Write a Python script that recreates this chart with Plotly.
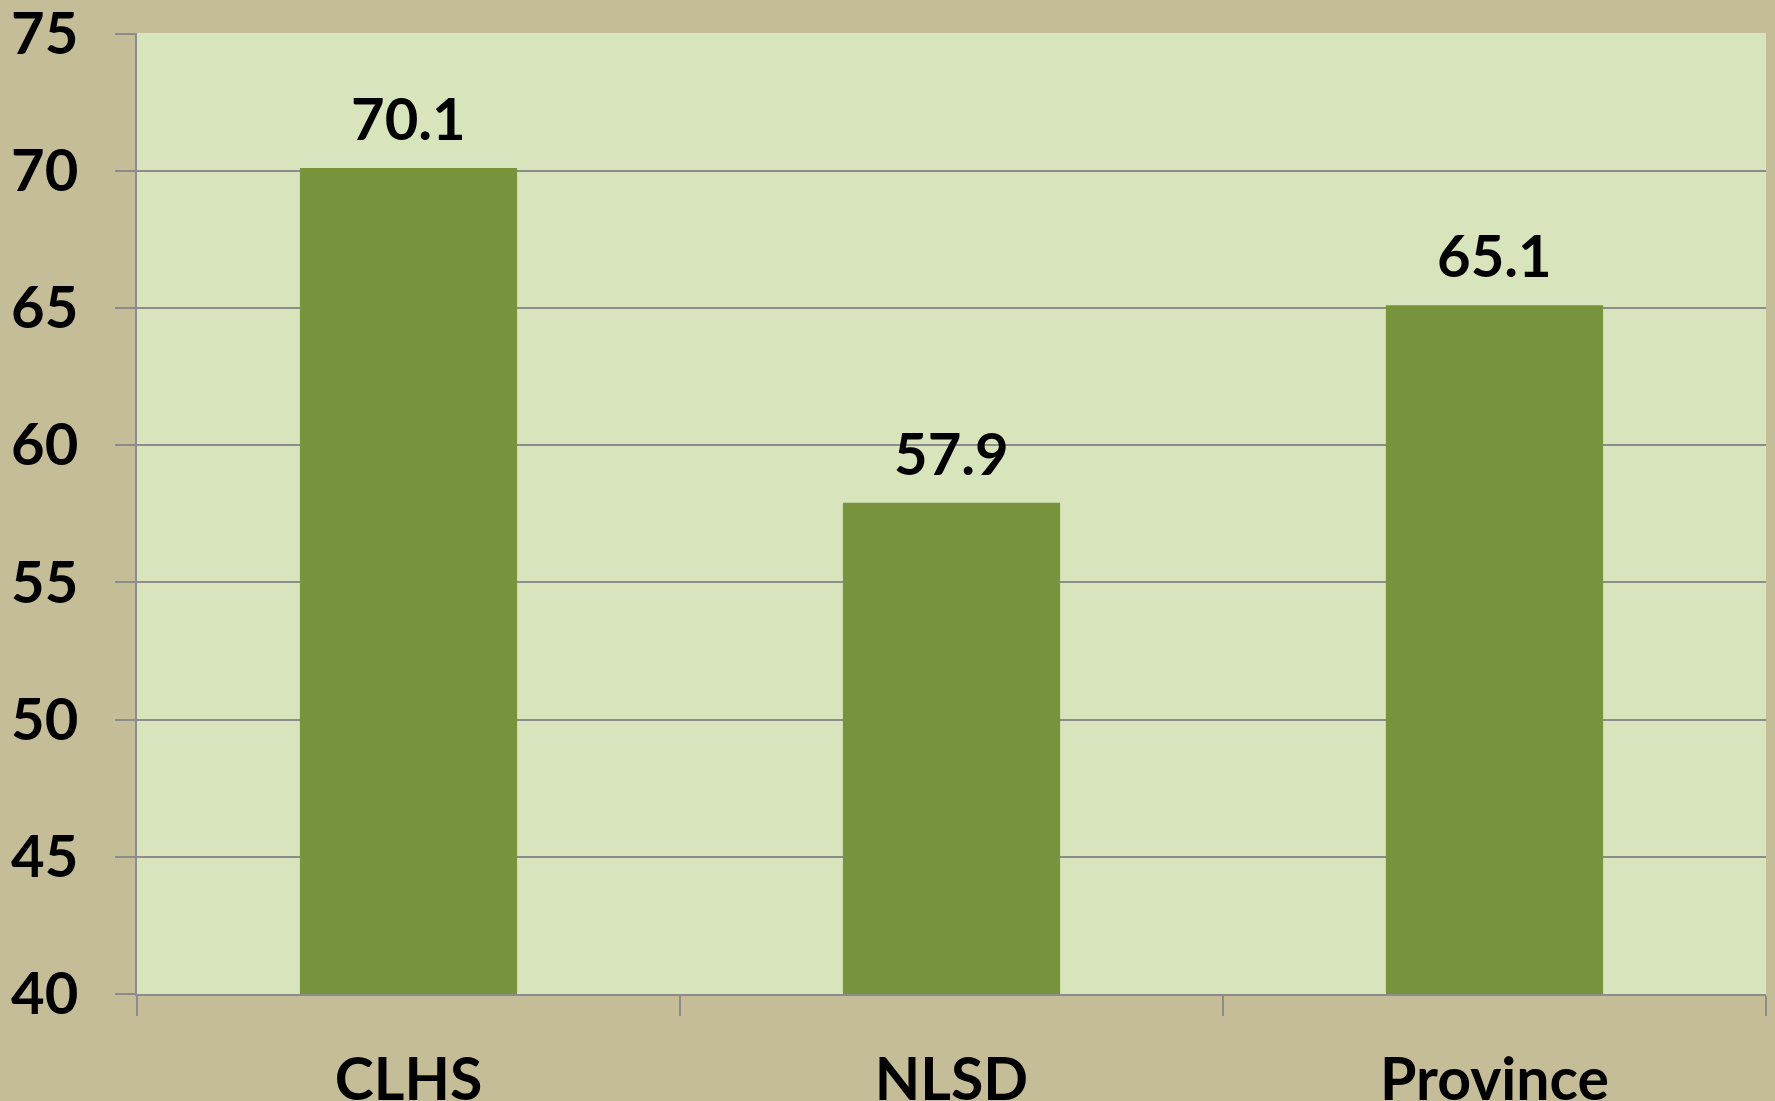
import plotly.graph_objects as go

categories = ["CLHS", "NLSD", "Province"]
values = [70.1, 57.9, 65.1]
value_labels = ["70.1", "57.9", "65.1"]
y_ticks = [40, 45, 50, 55, 60, 65, 70, 75]

FONT = "Lato, Carlito, Calibri, 'Open Sans', sans-serif"
GRID = "#8c8c8c"

fig = go.Figure()
fig.add_trace(go.Bar(
    x=categories, y=values,
    marker=dict(color="#77933C", line=dict(width=0)),
    hoverinfo="skip",
))

for c, v, t in zip(categories, values, value_labels):
    fig.add_annotation(x=c, y=v, text=f"<b>{t}</b>", showarrow=False,
                       yanchor="bottom", yshift=14,
                       font=dict(family=FONT, size=58, color="#000000"))

fig.update_layout(
    width=1775, height=1101,
    margin=dict(l=137, r=9, t=33, b=107),
    paper_bgcolor="#C4BD97",
    plot_bgcolor="#D8E4BC",
    bargap=0.6,
    showlegend=False,
    font=dict(family=FONT, size=58, color="#000000"),
)
fig.update_yaxes(
    range=[40, 75.02], tickmode="array", tickvals=y_ticks,
    ticktext=[f"<b>{v}</b>" for v in y_ticks],
    showgrid=True, gridcolor=GRID, gridwidth=1.5,
    showline=True, linecolor=GRID, linewidth=2,
    ticks="outside", ticklen=20, tickcolor=GRID, tickwidth=2,
    ticklabelstandoff=25, zeroline=False, automargin=False,
    ticklabeloverflow="allow",
    tickfont=dict(family=FONT, size=58, color="#000000"),
)
fig.update_xaxes(
    tickmode="array", tickvals=categories, ticktext=[f"<b>{c}</b>" for c in categories],
    showline=True, linecolor=GRID, linewidth=2,
    ticks="outside", ticklen=20, tickcolor=GRID, tickwidth=2,
    tickson="boundaries", ticklabelstandoff=33, automargin=False,
    ticklabeloverflow="allow",
    tickfont=dict(family=FONT, size=59, color="#000000"),
)

fig.write_html("out.html", config={"displayModeBar": False},
               post_script="document.body.style.margin='0';document.body.style.overflow='hidden';")
